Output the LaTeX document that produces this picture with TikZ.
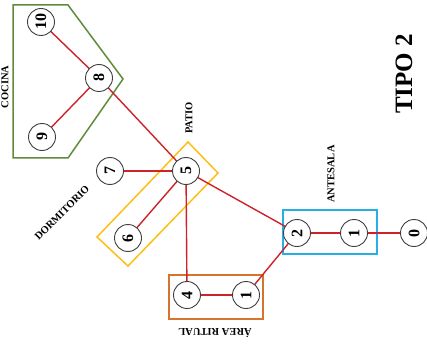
\documentclass[tikz,border=0pt]{standalone}
\usepackage{fontspec}
\setmainfont{Liberation Serif}
\begin{document}
\begin{tikzpicture}[x=1pt,y=-1pt,
  nd/.style={circle,draw=black!75,line width=0.9pt,fill=white,minimum size=27pt,inner sep=0pt,font=\fontsize{16}{16}\selectfont\bfseries,rotate=90},
  ed/.style={draw=edgered,line width=1.4pt},
  lbl/.style={font=\fontsize{10.5}{11}\selectfont\bfseries,inner sep=0pt},
  zone/.style={line width=1.5pt}]
\definecolor{edgered}{RGB}{205,35,40}
\definecolor{zgreen}{RGB}{95,140,60}
\definecolor{zyellow}{RGB}{255,190,20}
\definecolor{zblue}{RGB}{40,175,230}
\definecolor{zorange}{RGB}{215,115,45}
\useasboundingbox (0,0) rectangle (427,347);
% zones
\draw[zone,draw=zgreen] (13,5) -- (68,5) -- (123,79) -- (68,158) -- (13,158) -- cycle;
\draw[zone,draw=zyellow] (97,237) -- (188,142) -- (218,173) -- (128,266) -- cycle;
\draw[zone,draw=zblue] (283,210) rectangle (377,254);
\draw[zone,draw=zorange] (169,275) rectangle (263,319);
% coordinates of nodes
\coordinate (c10) at (41,22);
\coordinate (c8) at (99,78);
\coordinate (c9) at (42,137);
\coordinate (c7) at (110,171);
\coordinate (c5) at (186,171);
\coordinate (c6) at (128,238);
\coordinate (c2) at (297,233);
\coordinate (c1a) at (354,233);
\coordinate (c0) at (414,233);
\coordinate (c4) at (187,295);
\coordinate (c1r) at (246,295);
% edges
\draw[ed] (c10) -- (c8);
\draw[ed] (c9) -- (c8);
\draw[ed] (c8) -- (c5);
\draw[ed] (c7) -- (c5);
\draw[ed] (c6) -- (c5);
\draw[ed] (c5) -- (c2);
\draw[ed] (c5) -- (c4);
\draw[ed] (c2) -- (c1a);
\draw[ed] (c1a) -- (c0);
\draw[ed] (c2) -- (c1r);
\draw[ed] (c4) -- (c1r);
% nodes
\node[nd] (n10) at (c10) {10};
\node[nd] (n8) at (c8) {8};
\node[nd] (n9) at (c9) {9};
\node[nd] (n7) at (c7) {7};
\node[nd] (n5) at (c5) {5};
\node[nd] (n6) at (c6) {6};
\node[nd] (n2) at (c2) {2};
\node[nd] (n1a) at (c1a) {1};
\node[nd] (n0) at (c0) {0};
\node[nd] (n4) at (c4) {4};
\node[nd] (n1r) at (c1r) {1};
% labels
\node[lbl,rotate=90] (lcocina) at (5,87) {COCINA};
\node[lbl,rotate=90] (lpatio) at (189,118) {PATIO};
\node[lbl,rotate=90] (lantesala) at (331,174) {ANTESALA};
\node[lbl,rotate=45] (ldorm) at (62,213) {DORMITORIO};
\node[lbl,rotate=180] (lritual) at (215,333) {ÁREA RITUAL};
\node[font=\fontsize{25}{25}\selectfont\bfseries,rotate=90,inner sep=0pt] (ltipo) at (404,74) {TIPO 2};
\end{tikzpicture}
\end{document}
